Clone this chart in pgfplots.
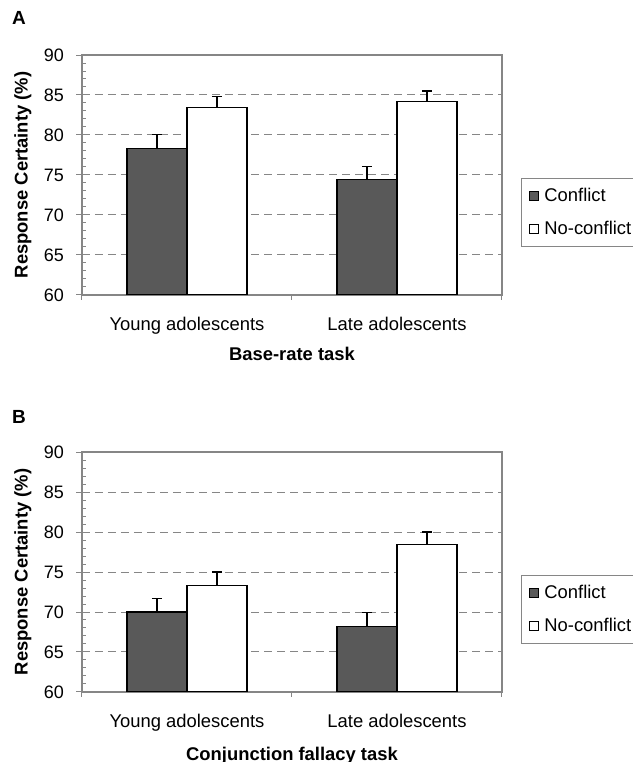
\documentclass[border=0pt]{standalone}
\usepackage{pgfplots}
\pgfplotsset{compat=1.18}
\usepackage{fontspec}
\setmainfont{Liberation Sans}

\definecolor{axgray}{HTML}{868686}
\definecolor{bardark}{HTML}{595959}

\pgfplotsset{
  certainty/.style={
    scale only axis, width=210pt, height=120pt,
    xmin=-0.5, xmax=1.5, ymin=60, ymax=90,
    ytick={60,65,...,90},
    minor y tick num=4,
    xtick={0,1},
    xticklabels={Young adolescents, Late adolescents},
    minor xtick={-0.5,0.5,1.5},
    tick pos=left,
    tick align=outside,
    major tick length=2.8pt, minor tick length=2.4pt,
    every major x tick/.append style={draw=none},
    every minor y tick/.append style={xshift=2.2pt},
    tick style={axgray, line width=0.5pt},
    axis line style={axgray, line width=0.6pt},
    ymajorgrids,
    grid style={axgray, dash pattern=on 4pt off 2.5pt, line width=0.5pt},
    ybar=0pt, bar width=30pt,
    /pgf/number format/assume math mode=true,
    yticklabel style={font=\fontsize{9}{11}\selectfont, inner sep=0pt, xshift=-6pt},
    xticklabel style={font=\fontsize{9.2}{11}\selectfont, inner sep=0pt, yshift=-8pt},
    ylabel={Response Certainty (\%)},
    ylabel style={font=\fontsize{9.2}{11}\selectfont\bfseries, inner sep=0pt,
      at={(axis description cs:-0.1405,0.5)}, anchor=center},
    xlabel style={font=\fontsize{9.2}{11}\selectfont\bfseries, inner sep=0pt, anchor=north},
    legend style={font=\fontsize{9.2}{11}\selectfont, draw=axgray, line width=0.5pt,
      at={(1.045,0.343)}, anchor=west, inner xsep=4pt, inner ysep=4.6pt,
      row sep=8.3pt, nodes={inner sep=0pt},
      /tikz/every odd column/.append style={column sep=2.5pt}},
    legend cell align=left,
    legend image code/.code={\draw[#1, line width=0.5pt] (0pt,-2.25pt) rectangle (4.5pt,2.25pt);},
  },
  conflict/.style={fill=bardark, draw=black, line width=0.6pt},
  noconflict/.style={fill=white, draw=black, line width=0.6pt},
  errs/.style={
    error bars/y dir=plus, error bars/y explicit,
    error bars/error bar style={black, line width=0.6pt},
    error bars/error mark options={black, line width=0.6pt, mark size=2.5pt, rotate=90},
  },
}

\begin{document}
\begin{tikzpicture}
\useasboundingbox (0,0) rectangle (316.5pt,381pt);

\node[font=\fontsize{9.5}{11}\selectfont\bfseries] at (9.5pt,372pt) {A};
\node[font=\fontsize{9.5}{11}\selectfont\bfseries] at (9.5pt,172.5pt) {B};

% panel A: base-rate task
\begin{axis}[certainty, at={(41pt,233.5pt)}, anchor=south west,
  xlabel={Base-rate task},
  xlabel style={at={(axis description cs:0.5,-0.216)}}]
\addplot[conflict, errs] coordinates {(0,78.3) +- (0,1.8) (1,74.4) +- (0,1.7)};
\addplot[noconflict, errs] coordinates {(0,83.4) +- (0,1.4) (1,84.2) +- (0,1.3)};
\legend{Conflict, No-conflict}
\end{axis}

% panel B: conjunction fallacy task
\begin{axis}[certainty, at={(41pt,35pt)}, anchor=south west,
  xlabel={Conjunction fallacy task},
  xlabel style={at={(axis description cs:0.5,-0.229)}}]
\addplot[conflict, errs] coordinates {(0,70.0) +- (0,1.7) (1,68.2) +- (0,1.7)};
\addplot[noconflict, errs] coordinates {(0,73.3) +- (0,1.7) (1,78.4) +- (0,1.6)};
\legend{Conflict, No-conflict}
\end{axis}
\end{tikzpicture}
\end{document}
